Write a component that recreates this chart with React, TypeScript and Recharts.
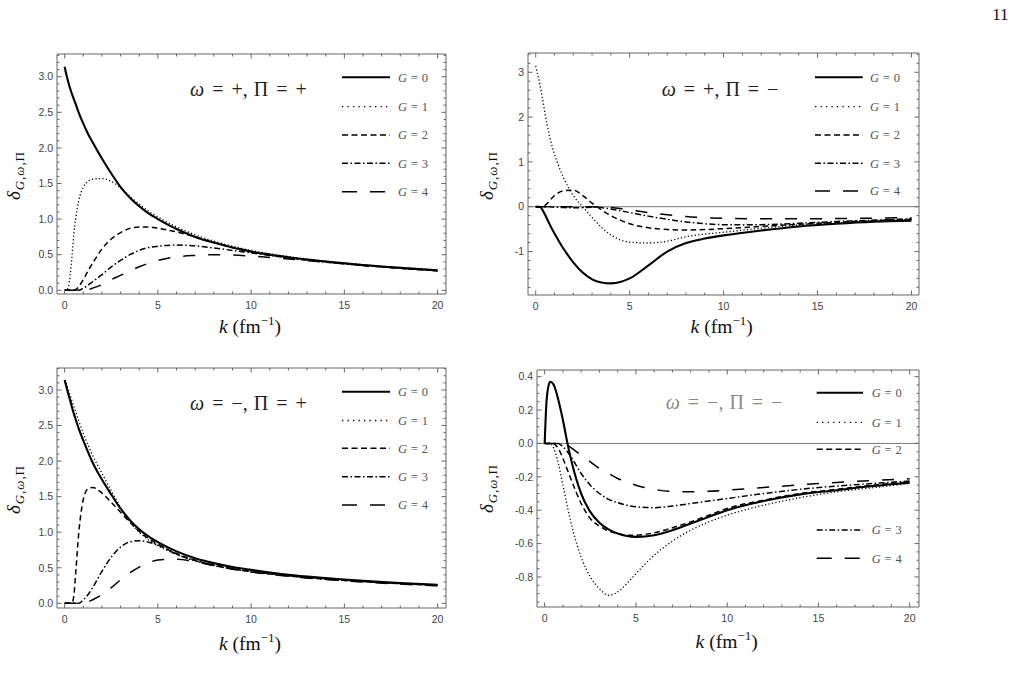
import React from "react";
import { LineChart, Line, XAxis, YAxis, ReferenceLine } from "recharts";

// sample points in k (fm^-1), shared by every series
const K = [0, 0.1, 0.2, 0.3, 0.4, 0.5, 0.6, 0.75, 1, 1.25, 1.5, 2, 2.5, 3, 3.5, 4, 4.5, 5, 6, 7, 8, 9, 10, 12, 14, 16, 18, 20];

// omega = +, Pi = +
const PP_G0 = [3.14, 3.02, 2.92, 2.83, 2.75, 2.68, 2.61, 2.5, 2.34, 2.2, 2.08, 1.85, 1.64, 1.45, 1.3, 1.18, 1.08, 1.0, 0.86, 0.75, 0.67, 0.6, 0.545, 0.465, 0.405, 0.355, 0.315, 0.28];
const PP_G1 = [0, 0, 0.05, 0.22, 0.5, 0.8, 1.02, 1.25, 1.45, 1.53, 1.56, 1.57, 1.53, 1.44, 1.32, 1.21, 1.11, 1.03, 0.89, 0.78, 0.69, 0.62, 0.56, 0.475, 0.41, 0.36, 0.32, 0.285];
const PP_G2 = [0, 0, 0, 0, 0, 0, 0.01, 0.05, 0.15, 0.27, 0.38, 0.58, 0.72, 0.81, 0.87, 0.89, 0.89, 0.87, 0.82, 0.75, 0.67, 0.6, 0.54, 0.46, 0.4, 0.35, 0.31, 0.275];
const PP_G3 = [0, 0, 0, 0, 0, 0, 0, 0, 0.03, 0.07, 0.12, 0.22, 0.33, 0.42, 0.5, 0.56, 0.6, 0.62, 0.635, 0.625, 0.595, 0.56, 0.525, 0.455, 0.395, 0.35, 0.31, 0.275];
const PP_G4 = [0, 0, 0, 0, 0, 0, 0, 0, 0, 0.01, 0.03, 0.08, 0.15, 0.21, 0.27, 0.33, 0.38, 0.42, 0.47, 0.49, 0.5, 0.495, 0.48, 0.44, 0.395, 0.35, 0.31, 0.275];

// omega = +, Pi = -
const PM_G0 = [0, 0, 0, -0.03, -0.1, -0.18, -0.27, -0.4, -0.6, -0.78, -0.95, -1.24, -1.47, -1.62, -1.69, -1.71, -1.68, -1.6, -1.31, -1.0, -0.81, -0.71, -0.64, -0.53, -0.44, -0.38, -0.335, -0.31];
const PM_G1 = [3.14, 2.96, 2.78, 2.55, 2.32, 2.07, 1.85, 1.55, 1.17, 0.88, 0.63, 0.25, 0.0, -0.24, -0.46, -0.63, -0.74, -0.79, -0.81, -0.77, -0.67, -0.61, -0.57, -0.48, -0.41, -0.36, -0.32, -0.29];
const PM_G2 = [0, 0, 0, 0, 0.01, 0.03, 0.07, 0.14, 0.25, 0.32, 0.36, 0.37, 0.25, 0.08, -0.07, -0.2, -0.3, -0.38, -0.47, -0.51, -0.52, -0.51, -0.49, -0.44, -0.39, -0.35, -0.31, -0.28];
const PM_G3 = [0, 0, 0, 0, 0, 0, 0, 0, -0.01, -0.015, -0.02, -0.025, -0.02, -0.01, -0.02, -0.05, -0.09, -0.13, -0.21, -0.28, -0.34, -0.38, -0.4, -0.4, -0.37, -0.33, -0.3, -0.27];
const PM_G4 = [0, 0, 0, 0, 0, 0, 0, 0, 0, 0, 0, 0, 0, 0, -0.01, -0.02, -0.04, -0.07, -0.13, -0.18, -0.22, -0.245, -0.26, -0.27, -0.27, -0.265, -0.255, -0.245];

// omega = -, Pi = +
const MP_G0 = [3.14, 3.04, 2.94, 2.85, 2.75, 2.66, 2.58, 2.46, 2.29, 2.13, 1.98, 1.74, 1.53, 1.33, 1.17, 1.04, 0.94, 0.86, 0.73, 0.635, 0.565, 0.51, 0.47, 0.4, 0.355, 0.315, 0.285, 0.26];
const MP_G1 = [3.14, 3.08, 3.0, 2.92, 2.84, 2.76, 2.69, 2.57, 2.39, 2.23, 2.08, 1.83, 1.58, 1.35, 1.15, 1.0, 0.89, 0.81, 0.685, 0.595, 0.53, 0.48, 0.445, 0.385, 0.34, 0.305, 0.275, 0.25];
const MP_G2 = [0, 0, 0, 0, 0.01, 0.12, 0.45, 0.97, 1.46, 1.61, 1.63, 1.55, 1.42, 1.28, 1.14, 1.01, 0.91, 0.83, 0.7, 0.605, 0.54, 0.49, 0.45, 0.39, 0.345, 0.31, 0.28, 0.255];
const MP_G3 = [0, 0, 0, 0, 0, 0, 0, 0, 0.05, 0.12, 0.22, 0.45, 0.65, 0.79, 0.865, 0.88, 0.86, 0.82, 0.69, 0.6, 0.535, 0.485, 0.445, 0.385, 0.34, 0.305, 0.275, 0.25];
const MP_G4 = [0, 0, 0, 0, 0, 0, 0, 0, 0, 0.02, 0.05, 0.12, 0.22, 0.33, 0.43, 0.51, 0.57, 0.61, 0.62, 0.585, 0.53, 0.48, 0.44, 0.38, 0.335, 0.3, 0.27, 0.245];

// omega = -, Pi = -
const MM_G0 = [0, 0.25, 0.34, 0.37, 0.365, 0.35, 0.32, 0.26, 0.14, 0.0, -0.12, -0.3, -0.41, -0.475, -0.515, -0.54, -0.555, -0.56, -0.55, -0.52, -0.48, -0.44, -0.4, -0.345, -0.305, -0.28, -0.255, -0.235];
const MM_G1 = [0, 0, 0, 0, -0.01, -0.03, -0.06, -0.12, -0.25, -0.38, -0.5, -0.68, -0.8, -0.87, -0.91, -0.89, -0.84, -0.78, -0.67, -0.585, -0.52, -0.47, -0.43, -0.37, -0.325, -0.29, -0.265, -0.24];
const MM_G2 = [0, 0, 0, 0, 0, 0, -0.01, -0.03, -0.09, -0.16, -0.23, -0.36, -0.45, -0.495, -0.525, -0.54, -0.55, -0.55, -0.535, -0.505, -0.47, -0.43, -0.39, -0.34, -0.3, -0.275, -0.25, -0.23];
const MM_G3 = [0, 0, 0, 0, 0, 0, 0, 0, -0.02, -0.05, -0.09, -0.18, -0.25, -0.3, -0.335, -0.355, -0.37, -0.38, -0.385, -0.375, -0.36, -0.345, -0.33, -0.3, -0.275, -0.255, -0.24, -0.225];
const MM_G4 = [0, 0, 0, 0, 0, 0, 0, 0, 0, -0.01, -0.03, -0.07, -0.11, -0.15, -0.18, -0.21, -0.23, -0.25, -0.275, -0.288, -0.29, -0.287, -0.28, -0.264, -0.248, -0.234, -0.222, -0.212];

const X_MAJOR = [0, 5, 10, 15, 20];
const Y_MAJOR_PP = [0, 0.5, 1, 1.5, 2, 2.5, 3];
const Y_MAJOR_PM = [-1, 0, 1, 2, 3];
const Y_MAJOR_MP = [0, 0.5, 1, 1.5, 2, 2.5, 3];
const Y_MAJOR_MM = [-0.8, -0.6, -0.4, -0.2, 0, 0.2, 0.4];
const G_VALUES = [0, 1, 2, 3, 4];

const FRAME = "#666";
const SERIF = "'Liberation Serif', 'DejaVu Serif', serif";
const SANS = "'Liberation Sans', Arial, sans-serif";
const PAD = 30;

const LINE_STYLES = [
  { dash: undefined, width: 2.1, legendDash: undefined },
  { dash: "1.2 2.3", width: 1.3, legendDash: "1.3 4.2" },
  { dash: "5.5 3.5", width: 1.5, legendDash: "6 3.5" },
  { dash: "6 2.5 1.5 2.5", width: 1.5, legendDash: "6 2.5 1.5 2.5" },
  { dash: "12 13", width: 1.5, legendDash: "15 13" },
];

function stepTicks(lo: number, hi: number, step: number) {
  const out: number[] = [];
  const a = Math.ceil(lo / step - 1e-9);
  const b = Math.floor(hi / step + 1e-9);
  for (let i = a; i <= b; i++) out.push(+(i * step).toFixed(6));
  return out;
}

type Edge = "bottom" | "top" | "left" | "right";

function makeTick(edge: Edge, majors: number[], digits: number) {
  return (props: any) => {
    const { x, y, payload } = props;
    const v = payload.value as number;
    const major = majors.some((m) => Math.abs(m - v) < 1e-6);
    const len = major ? 4.5 : 2.5;
    let l = [x, y, x, y - len];
    if (edge === "top") l = [x, y, x, y + len];
    if (edge === "left") l = [x, y, x + len, y];
    if (edge === "right") l = [x, y, x - len, y];
    return (
      <g>
        <line x1={l[0]} y1={l[1]} x2={l[2]} y2={l[3]} stroke={FRAME} strokeWidth={1} />
        {major && edge === "bottom" && (
          <text x={x} y={y + 15} textAnchor="middle" fontFamily={SANS} fontSize={10.5} fill="#444">
            {v.toFixed(digits)}
          </text>
        )}
        {major && edge === "left" && (
          <text x={x - 4} y={y} dy="0.36em" textAnchor="end" fontFamily={SANS} fontSize={10.5} fill="#444">
            {v.toFixed(digits)}
          </text>
        )}
      </g>
    );
  };
}

type Panel = {
  id: string;
  L: number; T: number; R: number; B: number;
  xDomain: [number, number];
  yDomain: [number, number];
  yMajor: number[];
  yMinor: number;
  yDigits: number;
  series: number[][];
  zeroLine: boolean;
};

const PANELS: Panel[] = [
  { id: "pp", L: 56.5, T: 53.5, R: 445.5, B: 293.5, xDomain: [-0.41, 20.45], yDomain: [-0.052, 3.319], yMajor: Y_MAJOR_PP, yMinor: 0.1, yDigits: 1, series: [PP_G0, PP_G1, PP_G2, PP_G3, PP_G4], zeroLine: false },
  { id: "pm", L: 527.5, T: 52.5, R: 918.5, B: 294.5, xDomain: [-0.41, 20.4], yDomain: [-1.97, 3.43], yMajor: Y_MAJOR_PM, yMinor: 0.2, yDigits: 0, series: [PM_G0, PM_G1, PM_G2, PM_G3, PM_G4], zeroLine: true },
  { id: "mp", L: 56.5, T: 367.5, R: 445.5, B: 607.5, xDomain: [-0.41, 20.45], yDomain: [-0.066, 3.309], yMajor: Y_MAJOR_MP, yMinor: 0.1, yDigits: 1, series: [MP_G0, MP_G1, MP_G2, MP_G3, MP_G4], zeroLine: false },
  { id: "mm", L: 536.5, T: 369.5, R: 918.5, B: 606.5, xDomain: [-0.42, 20.51], yDomain: [-0.98, 0.44], yMajor: Y_MAJOR_MM, yMinor: 0.05, yDigits: 1, series: [MM_G0, MM_G1, MM_G2, MM_G3, MM_G4], zeroLine: true },
];

function PanelChart({ p }: { p: Panel }) {
  const w = p.R - p.L;
  const h = p.B - p.T;
  const data = K.map((k, i) => ({ k, g0: p.series[0][i], g1: p.series[1][i], g2: p.series[2][i], g3: p.series[3][i], g4: p.series[4][i] }));
  const xTicks = stepTicks(p.xDomain[0], p.xDomain[1], 1);
  const yTicks = stepTicks(p.yDomain[0], p.yDomain[1], p.yMinor);
  const common = { tickSize: 0, tickMargin: 0, tickLine: false, interval: 0 as const, allowDataOverflow: true, axisLine: { stroke: FRAME, strokeWidth: 1 } };
  return (
    <div style={{ position: "absolute", left: p.L - PAD, top: p.T - PAD }}>
      <LineChart width={w + 2 * PAD} height={h + 2 * PAD} data={data} margin={{ top: 0, right: 0, bottom: 0, left: 0 }}>
        <XAxis xAxisId="b" orientation="bottom" dataKey="k" type="number" domain={p.xDomain} ticks={xTicks} height={PAD} tick={makeTick("bottom", X_MAJOR, 0)} {...common} />
        <XAxis xAxisId="t" orientation="top" dataKey="k" type="number" domain={p.xDomain} ticks={xTicks} height={PAD} tick={makeTick("top", X_MAJOR, 0)} {...common} />
        <YAxis yAxisId="l" orientation="left" type="number" domain={p.yDomain} ticks={yTicks} width={PAD} tick={makeTick("left", p.yMajor, p.yDigits)} {...common} />
        <YAxis yAxisId="r" orientation="right" type="number" domain={p.yDomain} ticks={yTicks} width={PAD} tick={makeTick("right", p.yMajor, p.yDigits)} {...common} />
        {p.zeroLine && <ReferenceLine xAxisId="b" yAxisId="l" y={0} stroke="#7a7a7a" strokeWidth={1} />}
        {G_VALUES.map((g) => (
          <Line
            key={g}
            xAxisId="b"
            yAxisId="l"
            dataKey={`g${g}`}
            type="monotone"
            stroke="#000"
            strokeWidth={LINE_STYLES[g].width}
            strokeDasharray={LINE_STYLES[g].dash}
            dot={false}
            activeDot={false}
            isAnimationActive={false}
          />
        ))}
      </LineChart>
    </div>
  );
}

const LEGENDS = [
  { x1: 342, x2: 390, lx: 398, rows: [77.3, 106.7, 135, 163.3, 191.7] },
  { x1: 815, x2: 862.7, lx: 870, rows: [77.3, 106.7, 135, 163.3, 191] },
  { x1: 342, x2: 390, lx: 398, rows: [391.7, 420.5, 448.3, 476.7, 505] },
  { x1: 816.7, x2: 863, lx: 871.7, rows: [392.7, 422.3, 449.3, 530, 558.3] },
];

const NOTES = [
  { x: 190, y: 96, omega: "+", pi: "+", color: "#222" },
  { x: 661.7, y: 95.5, omega: "+", pi: "\u2212", color: "#222" },
  { x: 190, y: 409.5, omega: "\u2212", pi: "+", color: "#222" },
  { x: 665.7, y: 409, omega: "\u2212", pi: "\u2212", color: "#8a8a8a" },
];

const XLABELS = [
  { x: 250, y: 333 },
  { x: 721.7, y: 333 },
  { x: 250, y: 650 },
  { x: 726.7, y: 648 },
];

const YLABELS = [
  { x: 20, y: 176 },
  { x: 493, y: 176 },
  { x: 20, y: 490 },
  { x: 493, y: 489 },
];

function Overlay() {
  const gap = 8;
  return (
    <svg width={1015} height={681} style={{ position: "absolute", left: 0, top: 0, pointerEvents: "none" }}>
      <text x={1008.5} y={20} textAnchor="end" fontFamily={SERIF} fontSize={17} fill="#111">11</text>
      {NOTES.map((n, i) => (
        <text key={`n${i}`} x={n.x} y={n.y} fontFamily={SERIF} fontSize={20} fill={n.color}>
          <tspan fontStyle="italic">ω</tspan>
          <tspan dx={gap}>=</tspan>
          <tspan dx={gap}>{n.omega}</tspan>
          <tspan>,</tspan>
          <tspan dx={gap - 2}>Π</tspan>
          <tspan dx={gap}>=</tspan>
          <tspan dx={gap}>{n.pi}</tspan>
        </text>
      ))}
      {XLABELS.map((l, i) => (
        <text key={`x${i}`} x={l.x} y={l.y} textAnchor="middle" fontFamily={SERIF} fontSize={19.5} fill="#111">
          <tspan fontStyle="italic">k</tspan>
          <tspan dx={5}>(fm</tspan>
          <tspan fontSize={13} dy={-8}>{"\u22121"}</tspan>
          <tspan dy={8}>)</tspan>
        </text>
      ))}
      {YLABELS.map((l, i) => (
        <text key={`y${i}`} transform={`translate(${l.x},${l.y}) rotate(-90)`} textAnchor="middle" fontFamily={SERIF} fontSize={19} fill="#111" textLength={48} lengthAdjust="spacing">
          <tspan fontStyle="italic">δ</tspan>
          <tspan fontSize={13} dy={4} fontStyle="italic">G</tspan>
          <tspan fontSize={13}>,</tspan>
          <tspan fontSize={13} fontStyle="italic">ω</tspan>
          <tspan fontSize={13}>,Π</tspan>
        </text>
      ))}
      {LEGENDS.map((lg, i) => (
        <g key={`lg${i}`}>
          {G_VALUES.map((g) => (
            <g key={g}>
              <line x1={lg.x1} x2={lg.x2} y1={lg.rows[g]} y2={lg.rows[g]} stroke="#000" strokeWidth={LINE_STYLES[g].width} strokeDasharray={LINE_STYLES[g].legendDash} />
              <text x={lg.lx} y={lg.rows[g] + 4.2} fontFamily={SERIF} fontSize={12.5} fill="#555" textLength={30} lengthAdjust="spacing">
                <tspan fontStyle="italic">G</tspan>
                {` = ${g}`}
              </text>
            </g>
          ))}
        </g>
      ))}
    </svg>
  );
}

export default function App() {
  return (
    <div style={{ position: "absolute", left: 0, top: 0, width: 1015, height: 681, background: "#fff", overflow: "hidden" }}>
      {PANELS.map((p) => (
        <PanelChart key={p.id} p={p} />
      ))}
      <Overlay />
    </div>
  );
}
